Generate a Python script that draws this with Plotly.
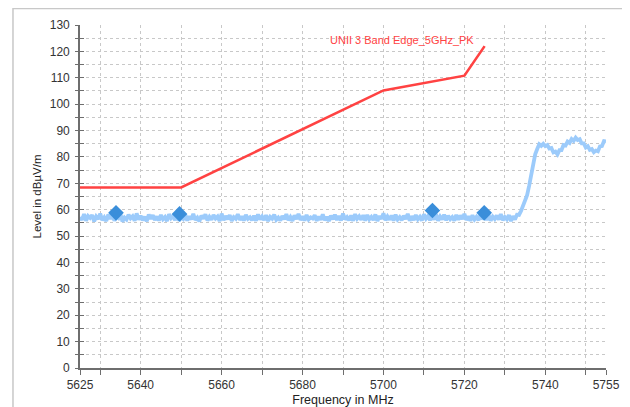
import plotly.graph_objects as go

# ---------------- data ----------------
# Limit line (UNII 3 Band Edge_5GHz_PK)
limit_freq = [5625, 5650, 5700, 5720, 5725]
limit_level = [68.4, 68.4, 105.2, 110.8, 122.0]
limit_name = "UNII 3 Band Edge_5GHz_PK"

# Measured trace, sampled every 0.5 MHz starting at 5625 MHz
trace_start = 5625.0
trace_step = 0.5
trace_level = [
    57.2, 56.1, 58.3, 55.8, 57.6, 56.9, 58.0, 55.6, 57.4, 56.4, 58.5, 56.0, 57.1, 55.7, 58.2, 56.6, 57.8, 55.9, 57.3, 56.8,
    58.4, 55.5, 57.0, 56.3, 58.1, 56.7, 57.5, 55.8, 58.6, 56.2, 57.7, 56.0, 57.3, 55.6, 58.2, 56.5, 57.9, 56.1, 57.4, 55.9,
    58.0, 56.4, 57.2, 55.7, 58.3, 56.8, 57.6, 56.0, 58.7, 55.8, 57.1, 56.5, 58.1, 55.9, 57.5, 56.3, 58.4, 56.1, 57.0, 55.6,
    57.8, 56.6, 58.2, 55.9, 57.3, 56.2, 58.0, 56.7, 57.4, 55.7, 58.5, 56.0, 57.6, 56.4, 57.9, 55.8, 57.2, 56.6, 58.3, 56.1,
    57.5, 55.9, 58.0, 56.5, 57.1, 56.0, 57.7, 55.8, 58.2, 56.3, 57.4, 56.1, 57.9, 55.7, 57.3, 56.6, 58.1, 56.2, 57.0, 55.9,
    57.6, 56.4, 58.3, 56.0, 57.2, 55.8, 57.8, 56.5, 58.4, 56.1, 57.5, 55.9, 58.0, 56.3, 57.1, 56.7, 57.9, 55.8, 57.4, 56.2,
    58.2, 56.0, 57.3, 55.7, 57.7, 56.4, 58.1, 56.1, 57.6, 55.9, 58.5, 56.3, 57.2, 56.0, 57.8, 55.8, 58.3, 56.6, 57.5, 56.2,
    57.9, 55.9, 58.0, 56.4, 57.3, 56.1, 58.2, 55.7, 57.6, 56.5, 58.6, 56.0, 57.4, 56.2, 57.8, 55.9, 58.1, 56.3, 57.2, 56.0,
    57.7, 56.5, 58.4, 55.8, 57.5, 56.1, 58.0, 56.4, 57.3, 55.9, 58.2, 56.6, 57.6, 56.0, 57.9, 56.2, 58.3, 55.8, 57.4, 56.3,
    58.1, 56.0, 57.7, 56.4, 57.2, 55.9, 58.0, 56.2, 57.8, 56.5, 58.4, 56.1, 57.5, 55.8, 57.9, 56.3, 57.3, 56.0, 58.2, 56.4,
    57.6, 56.1, 58.0, 55.9, 57.4, 56.5, 57.8, 56.2, 58.3, 56.0, 57.2, 56.4, 57.9, 55.7, 57.5, 56.3, 58.1,
    58.0, 59.5, 61.5, 63.5, 65.5, 69.0, 73.0, 77.5, 81.0, 83.0,
    84.8, 84.2, 85.0, 84.1, 84.5, 83.2, 83.4, 81.7, 82.0, 81.0,
    82.6, 82.6, 84.5, 84.3, 85.8, 85.3, 86.8, 86.1, 87.3, 86.4,
    86.7, 85.1, 85.1, 83.6, 84.1, 82.7, 83.0, 81.8, 82.4, 82.1,
    84.0, 84.1, 86.0, 85.9,
]

# Markers
marker_freq = [5633.9, 5649.6, 5712.1, 5724.9]
marker_level = [58.8, 58.4, 59.7, 58.8]

# Ticks
x_tickvals = [5625, 5630, 5640, 5650, 5660, 5670, 5680, 5690, 5700, 5710, 5720, 5730, 5740, 5750, 5755]
x_ticktext = ["5625", "", "5640", "", "5660", "", "5680", "", "5700", "", "5720", "", "5740", "", "5755"]
y_tickvals = [0, 5, 10, 15, 20, 25, 30, 35, 40, 45, 50, 55, 60, 65, 70, 75, 80, 85, 90, 95, 100, 105, 110, 115, 120, 125, 130]
y_ticktext = ["0", "", "10", "", "20", "", "30", "", "40", "", "50", "", "60", "", "70", "", "80", "", "90", "", "100", "", "110", "", "120", "", "130"]

x_title = "Frequency in MHz"
y_title = "Level in dBµV/m"

# ---------------- figure ----------------
FONT = "Arial, Liberation Sans, sans-serif"
AX = "#6E6E6E"
GRID = "#C8C8C8"

fig = go.Figure()

fig.add_trace(go.Scatter(
    x0=trace_start, dx=trace_step, y=trace_level, mode="lines",
    line=dict(color="#9CCBFB", width=3.8), showlegend=False, hoverinfo="skip",
))
fig.add_trace(go.Scatter(
    x=limit_freq, y=limit_level, mode="lines",
    line=dict(color="#FF4242", width=2.6), showlegend=False, hoverinfo="skip",
))
fig.add_trace(go.Scatter(
    x=marker_freq, y=marker_level, mode="markers",
    marker=dict(symbol="diamond", size=12, color="#3A8EDA"),
    showlegend=False, hoverinfo="skip",
))
# invisible trace to activate the inner tick axis
fig.add_trace(go.Scatter(x=[], y=[], yaxis="y2", showlegend=False, hoverinfo="skip"))

fig.add_annotation(
    x=5704.5, y=124.2, text=limit_name, showarrow=False,
    font=dict(family=FONT, size=11, color="#FF4242"),
)

fig.update_layout(
    width=622, height=399,
    margin=dict(l=72, r=24, t=17, b=39),
    paper_bgcolor="white", plot_bgcolor="white",
    font=dict(family=FONT, size=12, color="#333333"),
    xaxis=dict(
        range=[5625, 5755], tickvals=x_tickvals, ticktext=x_ticktext,
        showline=True, linecolor=AX, linewidth=1.6,
        ticks="outside", ticklen=5, tickwidth=1.2, tickcolor=AX,
        showgrid=True, gridcolor=GRID, gridwidth=1, griddash="3px,3px",
        zeroline=False, automargin=False,
        tickfont=dict(size=12, color="#333333"),
        title=dict(text=x_title, font=dict(size=12.5, color="#222222"), standoff=6),
    ),
    yaxis=dict(
        range=[0, 130], tickvals=y_tickvals, ticktext=y_ticktext,
        showline=True, linecolor=AX, linewidth=1.6,
        ticks="outside", ticklen=3, tickwidth=1.2, tickcolor=AX,
        ticklabelstandoff=3,
        showgrid=True, gridcolor=GRID, gridwidth=1, griddash="3px,3px",
        zeroline=False, automargin=False,
        tickfont=dict(size=12, color="#333333"),
        title=dict(text=y_title, font=dict(size=11.5, color="#222222"), standoff=6),
    ),
    yaxis2=dict(
        range=[0, 130], tickvals=y_tickvals, overlaying="y", side="left",
        showticklabels=False, ticks="inside", ticklen=4, tickwidth=1.2, tickcolor=AX,
        showgrid=False, showline=False, zeroline=False,
    ),
    shapes=[dict(
        type="rect", xref="paper", yref="paper",
        x0=-0.1274, x1=1.2, y0=-0.3, y1=1.048,
        line=dict(color="#C8C8C8", width=1.5), fillcolor="rgba(0,0,0,0)", layer="below",
    )],
)

fig.write_html("out.html")
